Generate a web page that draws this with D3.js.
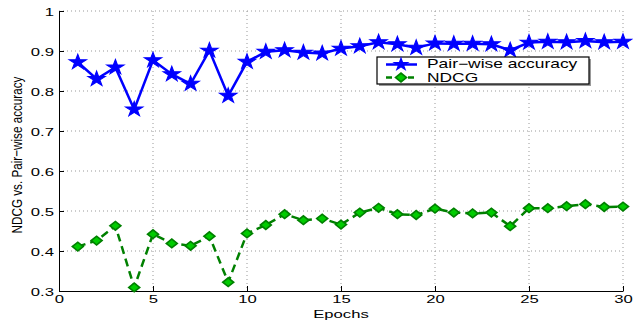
<!DOCTYPE html>
<html>
<head>
<meta charset="utf-8">
<script src="https://cdn.jsdelivr.net/npm/d3@7"></script>
<style>
  body { margin: 0; background: #fff; }
  svg { display: block; }
  text { font-family: "Liberation Sans", Arial, sans-serif; }
</style>
</head>
<body>
<svg id="chart" width="633" height="323"></svg>
<script>
"use strict";

// epochs 1..30
let epochs = [1,2,3,4,5,6,7,8,9,10,11,12,13,14,15,16,17,18,19,20,21,22,23,24,25,26,27,28,29,30];

// Pair-wise accuracy values
let pairwise = [0.872, 0.830, 0.859, 0.754, 0.877, 0.842, 0.818, 0.901, 0.788, 0.873,
                0.898, 0.902, 0.896, 0.894, 0.906, 0.912, 0.922, 0.917, 0.908, 0.919,
                0.918, 0.918, 0.917, 0.902, 0.921, 0.923, 0.922, 0.925, 0.922, 0.923];

// NDCG values
let ndcg = [0.411, 0.426, 0.463, 0.309, 0.442, 0.419, 0.413, 0.437, 0.322, 0.444,
            0.465, 0.492, 0.477, 0.481, 0.466, 0.496, 0.508, 0.492, 0.490, 0.506,
            0.496, 0.494, 0.496, 0.462, 0.507, 0.507, 0.512, 0.517, 0.510, 0.511];

let xTicks = [0, 5, 10, 15, 20, 25, 30];
let yTicks = [0.3, 0.4, 0.5, 0.6, 0.7, 0.8, 0.9, 1];
let seriesNames = ["Pair\u2212wise accuracy", "NDCG"];

let svg = d3.select("#chart");
let padL = 59, padR = 623, padT = 11, padB = 291;
let sx = 1.45; // the original figure was stretched sideways, text too

let x = d3.scaleLinear().domain([0, 30]).range([padL, padR]);
let y = d3.scaleLinear().domain([0.3, 1]).range([padB, padT]);

// dotted grid
let grid = svg.append("g");
grid.selectAll(".gx").data(xTicks.filter(d => d > 0)).enter().append("line")
  .attr("x1", d => x(d)).attr("x2", d => x(d))
  .attr("y1", padT).attr("y2", padB)
  .attr("stroke", "#999").attr("stroke-width", 1).attr("stroke-dasharray", "1 3");
grid.selectAll(".gy").data(yTicks.filter(d => d > 0.3)).enter().append("line")
  .attr("x1", padL).attr("x2", padR)
  .attr("y1", d => y(d)).attr("y2", d => y(d))
  .attr("stroke", "#999").attr("stroke-width", 1).attr("stroke-dasharray", "1 3");

// axes, ticks point inward
let xAxis = svg.append("g")
  .attr("transform", `translate(0,${padB})`)
  .call(d3.axisBottom(x).tickValues(xTicks).tickSize(-5).tickSizeOuter(0));
let yAxis = svg.append("g")
  .attr("transform", `translate(${padL},0)`)
  .call(d3.axisLeft(y).tickValues(yTicks).tickSize(-5).tickSizeOuter(0)
    .tickFormat(d => d === 1 ? "1" : d3.format(".1f")(d)));

[xAxis, yAxis].forEach(a => {
  a.select(".domain").attr("stroke", "#000").attr("stroke-width", 1);
  a.selectAll(".tick line").attr("stroke", "#000");
  a.selectAll("text").attr("fill", "#000")
    .style("font-size", "11.5px")
    .style("font-family", "'Liberation Sans', Arial, sans-serif")
    .attr("transform", `scale(${sx},1)`);
});
xAxis.selectAll("text").attr("y", 12.5).attr("dy", 0);
yAxis.selectAll("text").attr("x", -5 / sx).attr("dy", "0.36em");

// blue line with stars
let lineGen = d3.line().x((d, i) => x(epochs[i])).y(d => y(d));
svg.append("path").datum(pairwise)
  .attr("d", lineGen).attr("fill", "none")
  .attr("stroke", "#0000ff").attr("stroke-width", 2.5);
svg.selectAll(".star").data(pairwise).enter().append("path")
  .attr("d", d3.symbol().type(d3.symbolStar).size(70))
  .attr("transform", (d, i) => `translate(${x(epochs[i])},${y(d)}) scale(1.15,1)`)
  .attr("fill", "#0000ff").attr("stroke", "#0000ff").attr("stroke-width", 1);

// green dashed line with diamonds
svg.append("path").datum(ndcg)
  .attr("d", lineGen).attr("fill", "none")
  .attr("stroke", "#008000").attr("stroke-width", 2.5).attr("stroke-dasharray", "8 5");
svg.selectAll(".dia").data(ndcg).enter().append("path")
  .attr("d", d3.symbol().type(d3.symbolSquare).size(38))
  .attr("transform", (d, i) => `translate(${x(epochs[i])},${y(d)}) scale(1.25,1) rotate(45)`)
  .attr("fill", "#00cc00").attr("stroke", "#008000").attr("stroke-width", 1.5);

// legend
let lg = svg.append("g");
lg.append("rect").attr("x", 379).attr("y", 59).attr("width", 212).attr("height", 27)
  .attr("fill", "#999");
lg.append("rect").attr("x", 377).attr("y", 57).attr("width", 212).attr("height", 27)
  .attr("fill", "#fff").attr("stroke", "#000").attr("stroke-width", 1.2);
lg.append("line").attr("x1", 386).attr("x2", 417).attr("y1", 64.5).attr("y2", 64.5)
  .attr("stroke", "#0000ff").attr("stroke-width", 2.5);
lg.append("path").attr("d", d3.symbol().type(d3.symbolStar).size(70))
  .attr("transform", "translate(401,64.5) scale(1.15,1)").attr("fill", "#0000ff");
lg.append("line").attr("x1", 386).attr("x2", 417).attr("y1", 77.5).attr("y2", 77.5)
  .attr("stroke", "#008000").attr("stroke-width", 2.5).attr("stroke-dasharray", "6 5");
lg.append("path").attr("d", d3.symbol().type(d3.symbolSquare).size(38))
  .attr("transform", "translate(401,77.5) scale(1.25,1) rotate(45)")
  .attr("fill", "#00cc00").attr("stroke", "#008000").attr("stroke-width", 1.5);
lg.selectAll(".lt").data(seriesNames).enter().append("text")
  .attr("transform", (d, i) => `translate(427,${68 + i * 13.5}) scale(${sx},1)`)
  .style("font-size", "12px").attr("fill", "#000")
  .text(d => d);

// axis titles
svg.append("text")
  .attr("transform", `translate(${(padL + padR) / 2},317.5) scale(${sx},1)`)
  .attr("text-anchor", "middle").style("font-size", "11.5px")
  .text("Epochs");
svg.append("text")
  .attr("transform", `translate(22,155) scale(1.3,1) rotate(-90)`)
  .attr("text-anchor", "middle")
  .style("font-size", "11.7px")
  .text("NDCG vs. Pair\u2212wise accuracy");
</script>
</body>
</html>
